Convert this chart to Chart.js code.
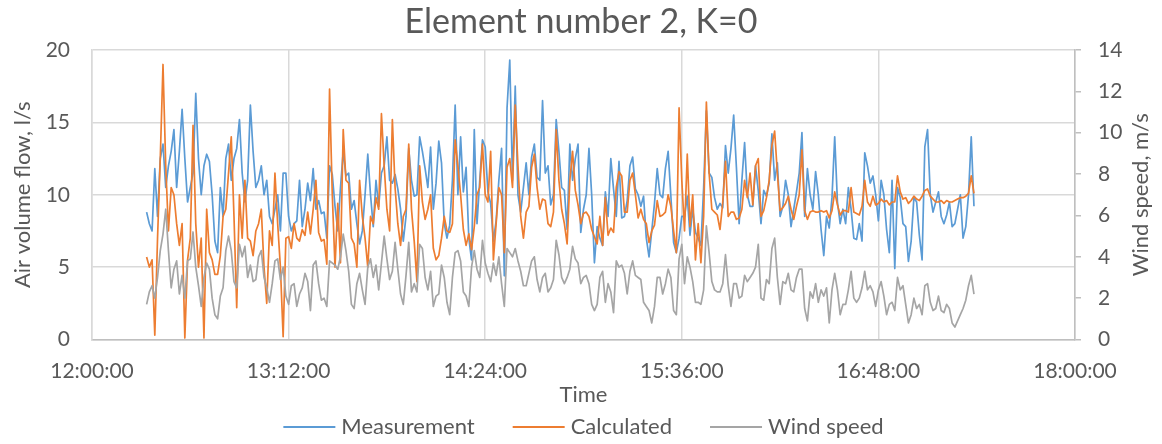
<!DOCTYPE html>
<html>
<head>
<meta charset="utf-8">
<script src="https://cdn.jsdelivr.net/npm/chart.js@4.4.1/dist/chart.umd.min.js"></script>
<style>
  html, body { margin: 0; padding: 0; background: #ffffff; }
  #wrap { width: 1162px; height: 444px; }
</style>
</head>
<body>
<div id="wrap"><canvas id="chart" width="1162" height="444"></canvas></div>
<script>
// Logged samples: one reading per minute, first one at 12:20:00
const startMinute = 20;      // minutes after 12:00:00
const sampleStepMinutes = 1;

// Air volume flow, l/s (measured)
const measurement = [
  8.8, 8.0, 7.5, 11.8, 8.5, 12.5, 13.5, 10.5, 12.0, 13.0,
  14.5, 10.5, 13.0, 15.9, 12.5, 9.5, 10.5, 11.5, 17.0, 12.5,
  10.0, 12.0, 12.8, 12.3, 10.0, 6.8, 6.0, 10.5, 8.5, 12.5,
  13.5, 11.0, 12.5, 13.2, 15.2, 11.5, 9.5, 11.0, 16.2, 13.0,
  10.5, 11.0, 12.0, 10.0, 11.0, 8.5, 8.0, 9.0, 10.0, 7.5,
  11.5, 11.5, 8.5, 7.5, 8.0, 8.2, 11.0, 7.8, 9.0, 10.8,
  9.6, 11.8, 9.0, 9.6, 8.7, 8.8, 7.0, 12.0, 11.4, 9.2,
  7.5, 10.5, 13.0, 11.3, 11.5, 9.0, 9.6, 8.0, 6.6, 7.5,
  10.0, 12.8, 10.0, 7.8, 11.0, 9.2, 11.5, 12.0, 14.0, 11.0,
  10.8, 11.4, 10.4, 9.0, 6.8, 8.5, 13.2, 11.0, 9.9, 10.0,
  14.0, 13.0, 11.8, 10.5, 13.3, 9.0, 10.8, 13.7, 12.2, 8.0,
  7.0, 7.9, 11.0, 16.2, 10.0, 14.0, 10.2, 11.9, 7.0, 5.5,
  14.5, 8.0, 11.0, 13.8, 13.3, 10.2, 9.4, 6.8, 8.2, 11.0,
  13.2, 4.4, 16.0, 19.3, 11.0, 17.5, 10.0, 8.8, 10.5, 12.2,
  10.0, 12.6, 13.5, 11.2, 11.0, 16.5, 11.5, 12.0, 9.3, 10.0,
  15.2, 13.0, 10.5, 10.3, 7.6, 13.5, 11.0, 12.5, 13.5, 7.4,
  9.0, 10.0, 13.2, 10.0, 5.3, 7.8, 7.0, 6.5, 10.2, 8.5,
  12.5, 10.4, 8.5, 12.3, 8.4, 8.5, 9.6, 12.0, 12.6, 10.4,
  10.0, 9.2, 9.9, 7.0, 5.7, 7.5, 9.4, 11.8, 10.0, 9.8,
  11.8, 13.0, 9.9, 6.7, 6.0, 7.0, 8.5, 8.5, 9.9, 7.2,
  9.0, 7.4, 7.0, 6.5, 10.5, 15.8, 11.5, 11.2, 9.8, 9.0,
  9.4, 9.1, 13.4, 11.5, 13.2, 15.5, 11.9, 8.0, 11.0, 13.6,
  10.0, 9.2, 9.2, 12.0, 10.3, 8.0, 10.3, 9.9, 10.8, 14.2,
  11.0, 12.2, 8.5, 9.2, 11.0, 10.0, 7.8, 9.0, 10.2, 11.5,
  14.3, 8.5, 11.8, 10.0, 9.0, 11.6, 10.0, 7.6, 5.8, 8.5,
  7.7, 9.8, 14.0, 9.5, 8.0, 9.0, 8.0, 10.5, 9.0, 7.0,
  6.9, 8.0, 6.8, 12.9, 12.0, 10.8, 11.3, 10.0, 8.2, 11.0,
  10.0, 7.6, 6.0, 11.0, 4.9, 10.5, 9.8, 8.0, 7.8, 5.4,
  6.8, 9.8, 9.5, 7.2, 5.5, 13.3, 14.5, 10.0, 8.8, 9.5,
  10.2, 8.5, 8.0, 8.6, 9.5, 7.8, 8.0, 9.0, 10.0, 7.0,
  7.8, 10.0, 14.0, 9.2
];

// Air volume flow, l/s (model, K=0)
const calculated = [
  5.7, 5.0, 5.5, 0.3, 7.0, 12.5, 19.0, 12.0, 7.5, 10.5,
  10.0, 8.0, 6.5, 8.0, 0.1, 5.5, 7.0, 14.8, 8.0, 5.0,
  7.0, 0.1, 9.0, 6.0, 5.5, 4.5, 4.5, 5.8, 8.5, 9.0,
  11.5, 14.0, 8.5, 2.2, 10.0, 7.0, 11.0, 7.0, 6.8, 5.8,
  7.5, 8.0, 9.0, 5.0, 2.5, 7.5, 6.5, 11.5, 8.0, 5.0,
  0.2, 7.0, 7.1, 6.3, 8.0, 7.0, 6.8, 7.6, 7.2, 8.8,
  7.3, 9.0, 11.0, 7.4, 6.8, 6.9, 5.2, 17.3, 10.0, 5.0,
  9.4, 5.3, 14.5, 11.0, 10.8, 7.0, 6.6, 5.0, 11.0, 8.5,
  7.0, 5.0, 8.5, 8.0, 9.8, 9.0, 15.6, 12.0, 9.0, 7.5,
  15.2, 10.5, 8.0, 6.5, 8.5, 9.0, 13.5, 9.0, 6.8, 4.0,
  12.0, 9.5, 8.3, 9.0, 10.0, 6.3, 5.5, 5.8, 7.0, 8.5,
  7.5, 7.4, 8.0, 13.8, 12.0, 10.0, 7.6, 6.5, 7.3, 6.2,
  7.8, 10.0, 10.5, 13.5, 10.0, 9.5, 13.0, 5.5, 8.0, 10.5,
  10.0, 6.0, 11.9, 12.5, 10.5, 16.2, 12.0, 8.5, 7.0, 8.8,
  9.2, 11.9, 12.8, 10.5, 9.0, 9.7, 9.6, 8.0, 7.8, 8.8,
  14.5, 11.0, 9.0, 8.0, 6.6, 11.0, 13.0, 10.3, 9.3, 8.0,
  8.7, 8.8, 8.5, 7.6, 7.1, 6.6, 8.5, 6.5, 9.8, 7.2,
  7.7, 7.4, 10.5, 11.6, 11.3, 8.8, 8.8, 11.0, 11.5, 10.0,
  8.4, 9.0, 8.3, 8.0, 6.7, 7.5, 7.9, 9.6, 8.5, 8.6,
  8.8, 10.0, 9.2, 7.5, 6.0, 16.0, 11.0, 7.5, 12.8, 7.8,
  10.0, 5.5, 8.0, 5.3, 8.5, 16.4, 11.5, 9.0, 8.8, 8.6,
  7.6, 9.5, 12.3, 8.5, 8.8, 8.8, 8.3, 8.4, 9.0, 11.0,
  9.8, 11.5, 9.3, 12.0, 12.5, 8.5, 8.9, 9.8, 11.0, 13.4,
  14.4, 11.5, 8.9, 9.1, 9.4, 9.9, 9.0, 8.3, 9.2, 10.0,
  13.1, 8.9, 8.3, 8.8, 8.9, 8.8, 8.8, 8.9, 8.8, 8.9,
  8.4, 8.9, 10.2, 9.3, 8.6, 8.9, 8.9, 8.8, 10.5, 8.8,
  8.7, 8.6, 9.2, 11.0, 9.5, 9.2, 9.9, 9.3, 9.4, 9.7,
  9.5, 9.6, 9.3, 9.5, 9.5, 11.3, 10.2, 9.7, 9.8, 9.4,
  9.6, 9.9, 9.7, 9.6, 9.9, 10.3, 10.4, 9.9, 9.7, 9.5,
  9.5, 9.6, 9.4, 9.6, 9.5, 9.5, 9.6, 9.7, 9.8, 9.8,
  9.9, 10.1, 11.3, 10.1
];

// Wind speed, m/s (secondary axis)
const windSpeed = [
  1.7, 2.3, 2.6, 2.0, 3.0, 4.3, 5.1, 6.3, 4.3, 2.5,
  3.4, 3.8, 2.2, 3.1, 2.0, 3.8, 3.9, 5.2, 3.5, 2.6,
  1.6, 3.0, 3.7, 3.4, 2.0, 1.2, 1.0, 2.1, 2.5, 4.3,
  5.0, 4.3, 2.8, 2.5, 4.6, 4.0, 4.5, 3.0, 3.6, 2.8,
  2.9, 4.0, 4.3, 3.0, 2.5, 1.8, 2.7, 3.8, 3.9, 2.9,
  3.5, 2.1, 1.7, 2.6, 2.7, 1.6, 2.2, 2.5, 3.2, 2.8,
  1.4, 3.6, 3.8, 2.7, 1.9, 2.0, 1.6, 3.8, 3.7, 3.6,
  3.4, 4.0, 5.1, 4.3, 3.3, 1.7, 1.5, 2.7, 3.2, 2.4,
  1.7, 3.5, 3.9, 3.0, 3.6, 2.4, 3.7, 5.0, 3.9, 2.9,
  3.3, 4.7, 3.4, 2.2, 1.7, 3.1, 4.7, 2.3, 2.7, 2.3,
  4.6, 4.4, 3.0, 2.4, 3.3, 1.6, 2.1, 2.2, 3.6, 3.0,
  1.8, 1.2, 3.0, 4.2, 4.3, 3.8, 2.3, 2.1, 1.6, 3.5,
  4.3, 3.4, 3.0, 4.8, 3.7, 3.2, 2.8, 3.7, 3.1, 4.0,
  2.7, 1.6, 4.4, 4.2, 4.0, 4.4, 3.8, 3.3, 2.6, 2.6,
  3.2, 3.8, 4.0, 2.9, 2.3, 3.0, 3.2, 2.3, 2.5, 2.9,
  4.8, 4.1, 3.0, 2.7, 3.0, 3.4, 4.5, 3.9, 3.7, 2.7,
  3.0, 3.1, 2.7, 1.7, 1.4, 1.7, 3.0, 3.3, 1.8, 2.7,
  2.3, 1.3, 3.8, 3.5, 3.6, 3.2, 2.2, 3.3, 3.8, 3.1,
  3.0, 2.9, 1.8, 1.6, 1.4, 0.8, 1.6, 3.0, 3.0, 2.2,
  2.7, 3.4, 3.0, 1.4, 1.2, 3.9, 4.6, 2.7, 4.0, 3.5,
  2.8, 1.8, 1.8, 1.7, 2.4, 5.5, 4.2, 2.8, 2.4, 2.3,
  2.3, 2.7, 4.1, 2.6, 1.6, 2.7, 2.7, 2.0, 2.1, 3.1,
  2.8, 3.0, 3.2, 3.5, 4.6, 2.0, 1.9, 2.9, 2.7, 4.4,
  4.9, 3.0, 1.7, 2.8, 2.7, 3.2, 2.4, 2.3, 3.0, 3.4,
  3.4, 1.5, 0.9, 2.3, 2.0, 2.7, 1.8, 2.4, 2.1, 2.5,
  0.8, 2.4, 3.2, 2.4, 1.2, 1.7, 1.7, 2.4, 3.3, 2.0,
  1.8, 2.0, 2.5, 3.3, 2.4, 2.6, 2.3, 1.6, 2.4, 2.8,
  2.1, 1.2, 1.7, 1.8, 1.4, 3.0, 2.4, 2.6, 1.7, 0.8,
  1.2, 2.0, 1.5, 1.7, 1.2, 2.6, 2.7, 1.8, 1.4, 1.5,
  2.1, 1.4, 1.3, 1.7, 1.5, 0.8, 0.6, 0.9, 1.2, 1.5,
  1.9, 2.6, 3.1, 2.2
];

// Time axis ticks (minutes after 12:00:00) and their labels
const timeTickMinutes = [0, 72, 144, 216, 288, 360];
const timeTickLabels = ['12:00:00', '13:12:00', '14:24:00', '15:36:00', '16:48:00', '18:00:00'];

const seriesNames = ['Measurement', 'Calculated', 'Wind speed'];
const chartTitle = 'Element number 2, K=0';
const flowAxisTitle = 'Air volume flow, l/s';
const windAxisTitle = 'Wind speed, m/s';
const timeAxisTitle = 'Time';

const FONT = 'Lato, "Liberation Sans", sans-serif';
const TEXT = '#595959';
const GRID = '#d9d9d9';
const AXIS = '#bfbfbf';
const COLORS = ['#5b9bd5', '#ed7d31', '#a5a5a5'];

const sampleMinutes = measurement.map((_, i) => startMinute + i * sampleStepMinutes);
const toPoints = (vals) => vals.map((v, i) => ({ x: sampleMinutes[i], y: v }));

// Secondary axis title (reads bottom to top) and the line-sample legend below the axis
const chartDecorations = {
  id: 'chartDecorations',
  afterDraw(chart) {
    const { ctx, chartArea } = chart;
    ctx.save();
    ctx.fillStyle = TEXT;
    ctx.font = '22px ' + FONT;
    ctx.textAlign = 'center';
    ctx.textBaseline = 'middle';
    ctx.translate(1141, (chartArea.top + chartArea.bottom) / 2);
    ctx.rotate(-Math.PI / 2);
    ctx.fillText(windAxisTitle, 0, 0);
    ctx.restore();

    ctx.save();
    ctx.font = '22px ' + FONT;
    ctx.textBaseline = 'middle';
    ctx.textAlign = 'left';
    const sample = 52, gapText = 6, gapItem = 38, y = 427;
    const items = chart.data.datasets.map(ds => ({
      label: ds.label, color: ds.borderColor,
      w: sample + gapText + ctx.measureText(ds.label).width
    }));
    const total = items.reduce((s, it) => s + it.w, 0) + gapItem * (items.length - 1);
    let x = (chartArea.left + chartArea.right) / 2 - total / 2;
    items.forEach(it => {
      ctx.strokeStyle = it.color;
      ctx.lineWidth = 2;
      ctx.beginPath();
      ctx.moveTo(x, y);
      ctx.lineTo(x + sample, y);
      ctx.stroke();
      ctx.fillStyle = TEXT;
      ctx.fillText(it.label, x + sample + gapText, y);
      x += it.w + gapItem;
    });
    ctx.restore();
  }
};

new Chart(document.getElementById('chart'), {
  type: 'line',
  data: {
    datasets: [
      { label: seriesNames[0], data: toPoints(measurement), borderColor: COLORS[0], yAxisID: 'y', order: 3 },
      { label: seriesNames[1], data: toPoints(calculated), borderColor: COLORS[1], yAxisID: 'y', order: 2 },
      { label: seriesNames[2], data: toPoints(windSpeed), borderColor: COLORS[2], yAxisID: 'y2', order: 1 }
    ]
  },
  options: {
    responsive: false,
    animation: false,
    devicePixelRatio: 1,
    layout: { padding: 0 },
    elements: {
      line: { borderWidth: 1.7, tension: 0, fill: false, borderJoinStyle: 'round' },
      point: { radius: 0, hoverRadius: 0 }
    },
    plugins: {
      title: {
        display: true, text: chartTitle, color: TEXT,
        font: { family: FONT, size: 34, weight: 'normal' },
        padding: { top: 2, bottom: 7.2 }
      },
      legend: { display: false },
      tooltip: { enabled: false }
    },
    scales: {
      x: {
        type: 'linear', min: 0, max: 360,
        afterBuildTicks: (s) => { s.ticks = timeTickMinutes.map(v => ({ value: v })); },
        afterFit: (s) => { s.height = 444 - 339.5; },
        ticks: {
          callback: (v) => timeTickLabels[timeTickMinutes.indexOf(v)],
          color: TEXT, font: { family: FONT, size: 21 }, padding: 19.5,
          maxRotation: 0, autoSkip: false
        },
        grid: { color: GRID, lineWidth: 1.5, drawTicks: false },
        border: { color: AXIS, width: 1.5 },
        title: {
          display: true, text: timeAxisTitle, color: TEXT,
          font: { family: FONT, size: 22 }, padding: { top: 0, bottom: 35.8 }
        }
      },
      y: {
        position: 'left', min: 0, max: 20,
        afterFit: (s) => { s.width = 92; },
        ticks: { stepSize: 5, color: TEXT, font: { family: FONT, size: 21 }, padding: 22 },
        grid: { color: GRID, lineWidth: 1.5, drawTicks: false },
        border: { color: GRID, width: 1.5 },
        title: {
          display: true, text: flowAxisTitle, color: TEXT,
          font: { family: FONT, size: 22 }, padding: { top: 10, bottom: 0 }
        }
      },
      y2: {
        position: 'right', min: 0, max: 14,
        afterFit: (s) => { s.width = 1162 - 1075; },
        ticks: { stepSize: 2, color: TEXT, font: { family: FONT, size: 21 }, padding: 17 },
        grid: { drawOnChartArea: false, drawTicks: true, tickLength: 6, color: AXIS, lineWidth: 1.5 },
        border: { color: AXIS, width: 1.5 }
      }
    }
  },
  plugins: [chartDecorations]
});
</script>
</body>
</html>
